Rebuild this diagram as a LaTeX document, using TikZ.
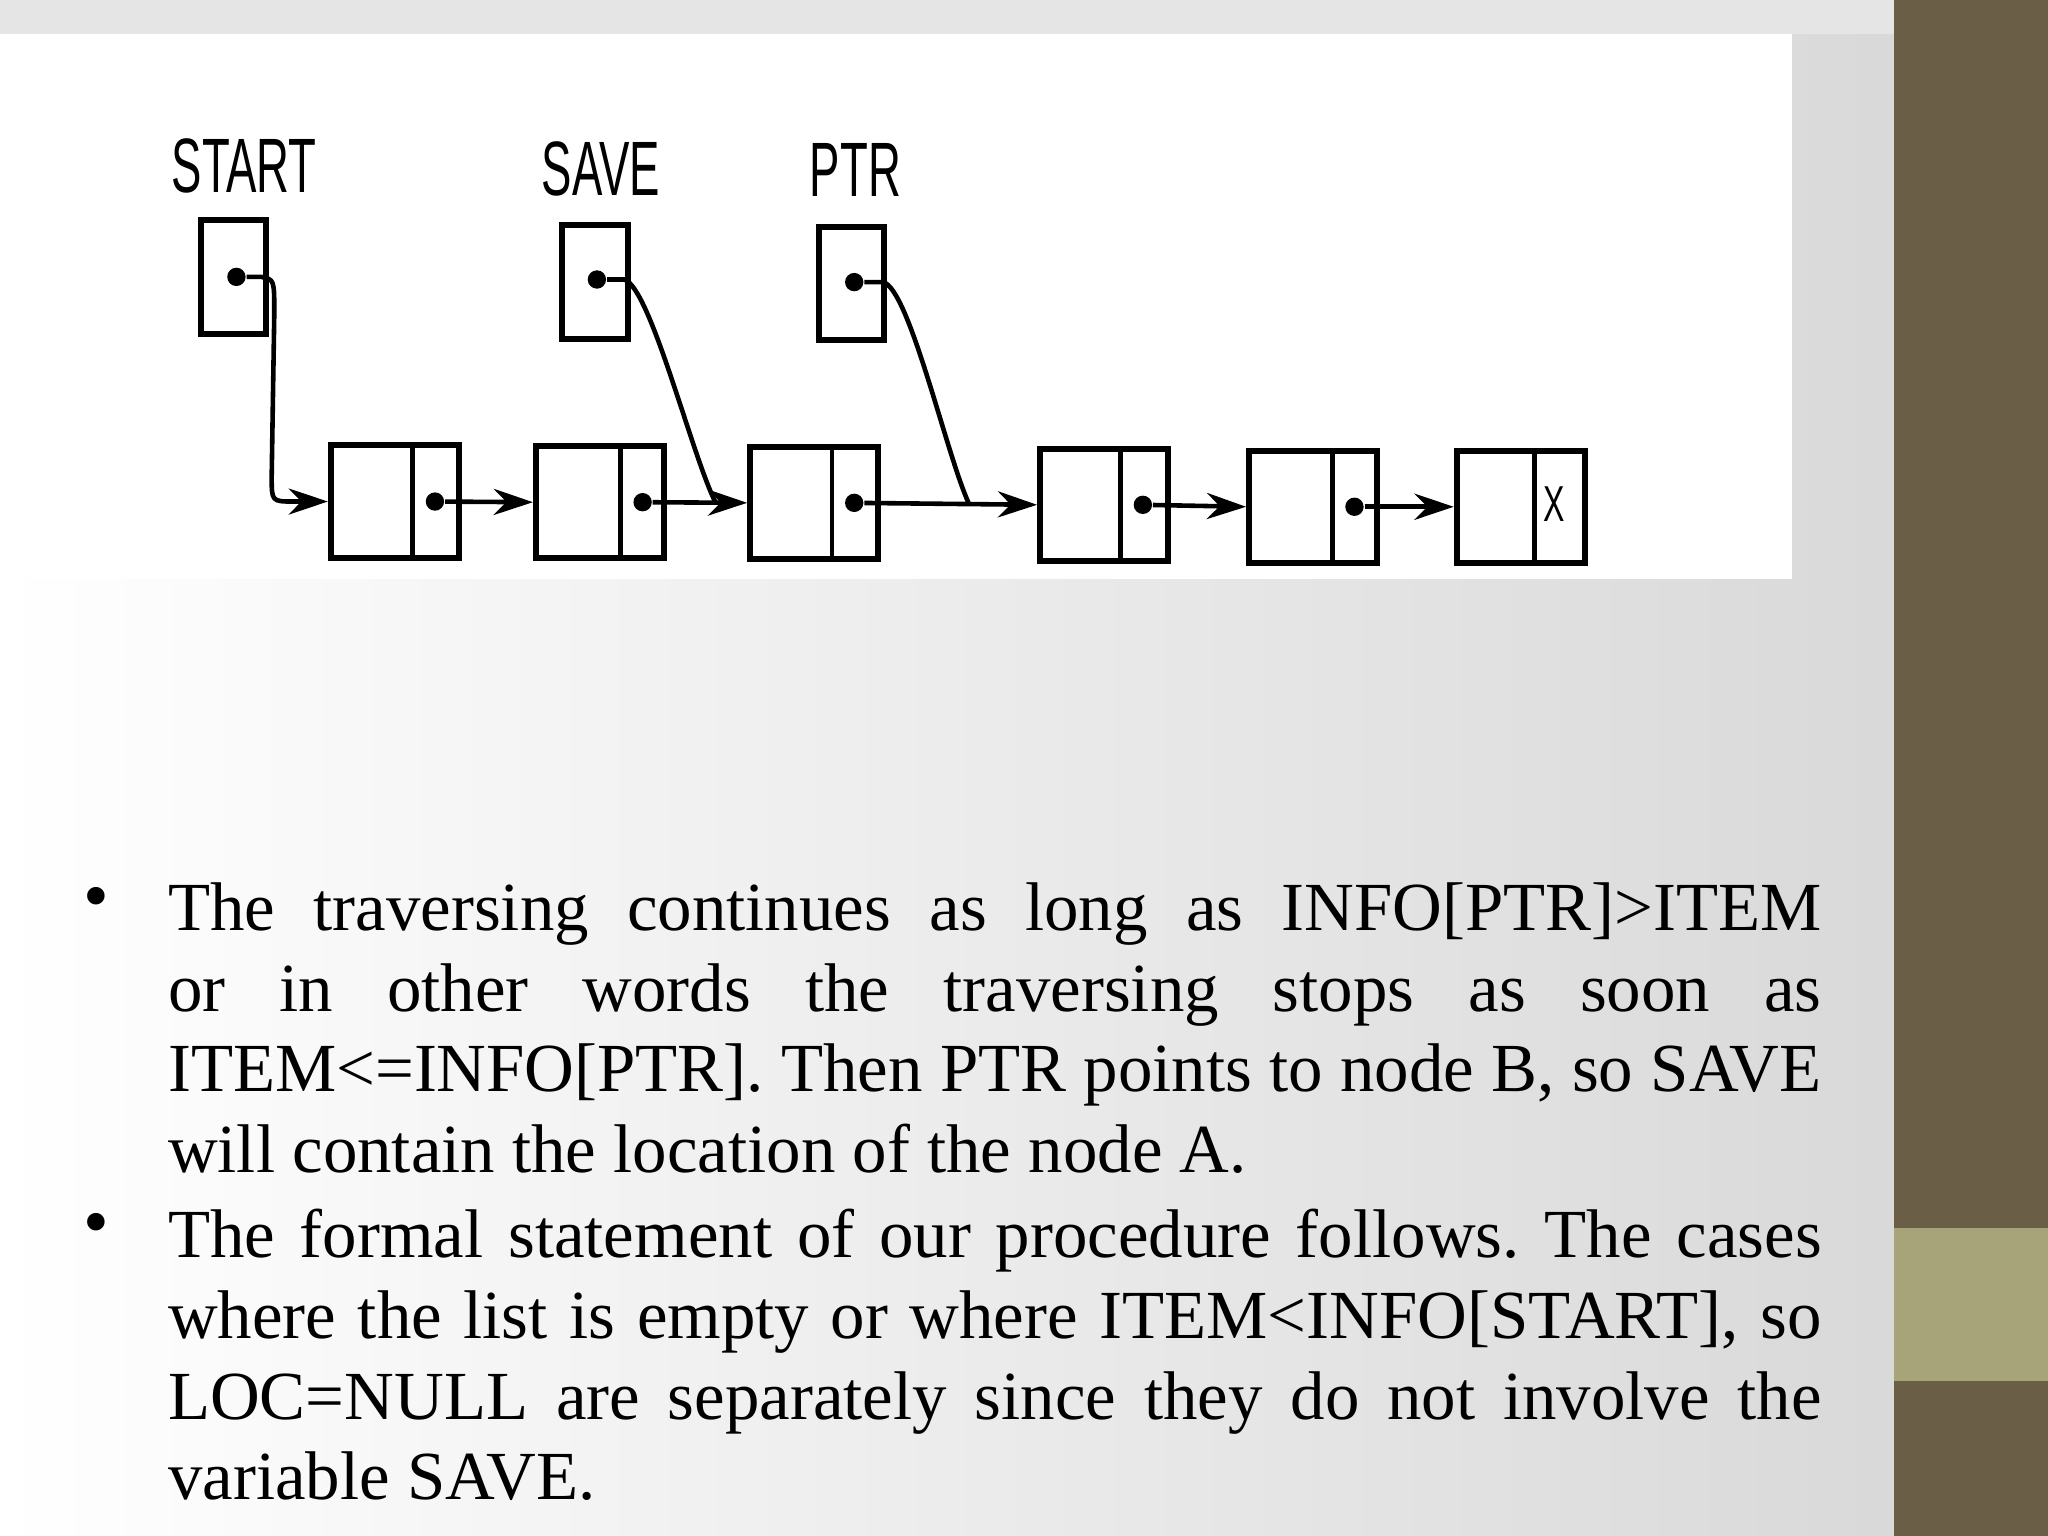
\documentclass[tikz,border=0pt]{standalone}
\usepackage{fontspec}
\setmainfont{Liberation Serif}
\newfontfamily\lblfont{Liberation Sans}
\usetikzlibrary{arrows.meta,shadings}
\definecolor{olive}{HTML}{6B5E47}
\definecolor{lolive}{HTML}{A8A47A}
\frenchspacing
\tikzset{
  cell/.style={draw=black,line width=1.3pt,minimum width=0.98cm,minimum height=0.86cm,inner sep=0pt},
  ptrbox/.style={draw=black,line width=1.3pt,minimum width=0.5cm,minimum height=0.87cm,inner sep=0pt},
  lbl/.style={font=\lblfont\fontsize{16}{16}\selectfont,inner sep=0pt},
  lnk/.style={line width=1pt,-{Stealth[length=3mm,width=2mm]}},
  dotc/.style={circle,fill=black,inner sep=0pt,minimum size=4pt},
  body/.style={text width=12.66cm,align=justify,inner sep=0pt,anchor=north west,font=\fontsize{15}{17.6}\selectfont\frenchspacing}
}
\begin{document}
\begin{tikzpicture}[x=1cm,y=1cm]
\useasboundingbox (0,0) rectangle (15.68,-11.76);
\shade[left color=white,right color=gray!30] (0,0) rectangle (14.5,-11.76);
\fill[gray!20] (0,0) rectangle (14.5,-0.26);
\fill[white] (0,-0.26) rectangle (13.72,-4.43);
\fill[olive] (14.5,0) rectangle (15.68,-11.76);
\fill[lolive] (14.5,-9.40) rectangle (15.68,-10.57);
% labels
\node[lbl] (lstart) at (1.87,-1.27) {\scalebox{0.62}[1.05]{START}};
\node[lbl] (lsave) at (4.60,-1.29) {\scalebox{0.62}[1.05]{SAVE}};
\node[lbl] (lptr) at (6.55,-1.30) {\scalebox{0.62}[1.05]{PTR}};
% pointer boxes
\node[ptrbox] (pstart) at (1.79,-2.12) {};
\node[ptrbox] (psave) at (4.555,-2.16) {};
\node[ptrbox] (pptr) at (6.52,-2.17) {};
% list nodes
\foreach \n/\x/\d/\y in {1/2.51/3.16/-3.84,2/4.08/4.75/-3.845,3/5.72/6.37/-3.85,4/7.94/8.58/-3.865,5/9.54/10.20/-3.88,6/11.13/11.75/-3.88}{
  \node[cell,anchor=west] (c\n) at (\x,\y) {};
  \draw[line width=1pt] (\d,\y+0.43) -- (\d,\y-0.43);
  \coordinate (d\n) at (\d+0.17,\y);
}
\node[font=\lblfont\fontsize{10}{10}\selectfont] (xx) at (11.9,-3.86) {\scalebox{0.7}[1.1]{X}};
% dots
\foreach \n in {1,...,5}{\node[dotc] (dt\n) at (d\n) {};}
\node[dotc] (ds) at (1.81,-2.12) {};
\node[dotc] (dv) at (4.57,-2.14) {};
\node[dotc] (dp) at (6.54,-2.16) {};
% links
\draw[lnk] (dt1) -- (c2.west);
\draw[lnk] (dt2) -- (c3.west);
\draw[lnk] (dt3) -- (c4.west);
\draw[lnk] (dt4) -- (c5.west);
\draw[lnk] (dt5) -- (c6.west);
\draw[lnk] (ds) -- (2.0,-2.12) .. controls (2.1,-2.14) .. (2.1,-2.4) -- (2.08,-3.65) .. controls (2.08,-3.84) .. (2.25,-3.84) -- (c1.west);
\coordinate (jsave) at (5.48,-3.85);
\coordinate (jptr) at (7.42,-3.86);
\draw[line width=1pt] (dv) -- (4.78,-2.14) .. controls (4.98,-2.2) and (5.3,-3.5) .. (jsave);
\draw[line width=1pt] (dp) -- (6.76,-2.16) .. controls (6.96,-2.2) and (7.25,-3.5) .. (jptr);
% text
\node[font=\fontsize{16}{16}\selectfont] (b1) at (0.74,-6.92) {\textbullet};
\node[font=\fontsize{16}{16}\selectfont] (b2) at (0.74,-9.42) {\textbullet};
\node[body] (t1) at (1.28,-6.75) {The traversing continues as long as INFO[PTR]>ITEM or in other words the traversing stops as soon as ITEM<=INFO[PTR]. Then PTR points to node B, so SAVE will contain the location of the node A.};
\node[body] (t2) at (1.28,-9.25) {The formal statement of our procedure follows. The cases where the list is empty or where ITEM<INFO[START], so LOC=NULL are separately since they do not involve the variable SAVE.};
\end{tikzpicture}
\end{document}
